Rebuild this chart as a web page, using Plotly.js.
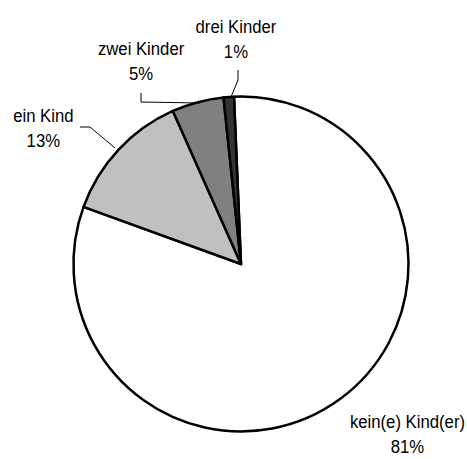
<!DOCTYPE html>
<html>
<head>
<meta charset="utf-8">
<script src="https://cdn.plot.ly/plotly-3.0.1.min.js"></script>
<style>html,body{margin:0;padding:0;background:#fff;}#chart{width:467px;height:459px;}</style>
</head>
<body>
<div id="chart"></div>
<script>
var categories = ["kein(e) Kind(er)", "ein Kind", "zwei Kinder", "drei Kinder"];
var values = [81.2, 12.8, 5.0, 1.0];
var sliceColors = ["#ffffff", "#c0c0c0", "#808080", "#333333"];

var W = 467, H = 459;
function px(x) { return x / W; }
function py(y) { return 1 - y / H; }

var total = values.reduce(function (a, b) { return a + b; }, 0);
function pct(i) { return Math.round(values[i] / total * 100) + "%"; }

// label block centres (pixels) and leader line paths (pixels)
var labelPos = [[407, 434], [43, 128], [141, 61], [237, 39]];
var leaders = [
  null,
  [[80, 127], [90, 127], [115, 148]],
  [[141, 93], [141, 102], [200, 103]],
  [[238, 70], [238, 80], [231, 97]]
];

var font = { family: "Liberation Sans, Arial, sans-serif", size: 19, color: "#000" };

var annotations = categories.map(function (c, i) {
  return {
    x: px(labelPos[i][0]), y: py(labelPos[i][1]), xref: "paper", yref: "paper",
    text: c + "<br>" + pct(i), showarrow: false, xanchor: "center", yanchor: "middle",
    align: "center", font: font
  };
});

var shapes = [];
leaders.forEach(function (l) {
  if (!l) return;
  var d = l.map(function (p, k) { return (k ? "L" : "M") + px(p[0]) + "," + py(p[1]); }).join(" ");
  shapes.push({ type: "path", xref: "paper", yref: "paper", path: d, line: { color: "#000", width: 1 } });
});

var cx = 241, cy = 264, r = 167.5;
var trace = {
  type: "pie",
  labels: categories,
  values: values,
  sort: false,
  direction: "clockwise",
  rotation: -2.4,
  textinfo: "none",
  hoverinfo: "none",
  marker: { colors: sliceColors, line: { color: "#000", width: 2.5 } },
  domain: { x: [px(cx - r), px(cx + r)], y: [py(cy + r), py(cy - r)] }
};

function narrowText() {
  var texts = document.querySelectorAll("#chart .annotation-text");
  texts.forEach(function (t) {
    var x = parseFloat(t.getAttribute("x")) || 0;
    var old = t.getAttribute("transform") || "";
    t.setAttribute("transform", old + " translate(" + x + ",0) scale(0.88,1) translate(" + (-x) + ",0)");
  });
}

Plotly.newPlot("chart", [trace], {
  width: W, height: H,
  margin: { l: 0, r: 0, t: 0, b: 0 },
  paper_bgcolor: "#fff",
  showlegend: false,
  annotations: annotations,
  shapes: shapes
}, { staticPlot: true }).then(narrowText);
</script>
</body>
</html>
